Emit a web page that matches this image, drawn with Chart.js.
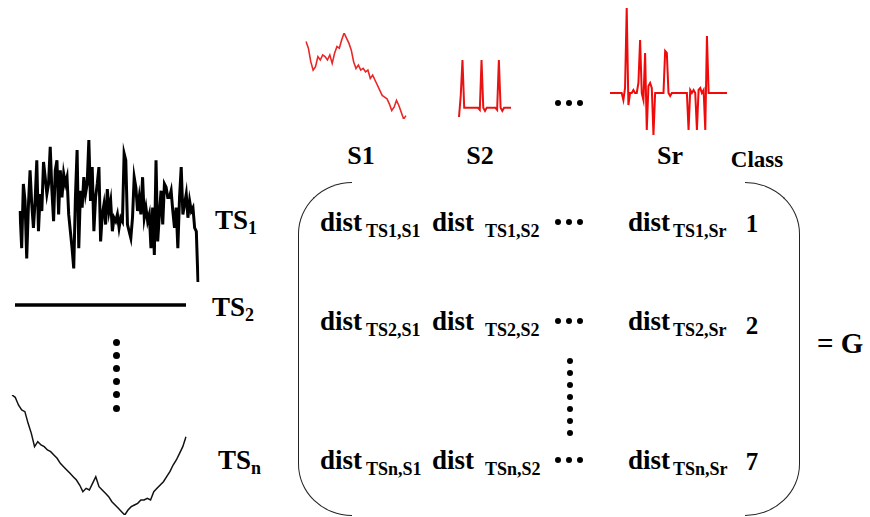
<!DOCTYPE html>
<html>
<head>
<meta charset="utf-8">
<script src="https://cdn.jsdelivr.net/npm/chart.js@4/dist/chart.umd.min.js"></script>
<style>
  body { margin: 0; background: #fff; }
  #page { position: relative; width: 870px; height: 517px; overflow: hidden; background: #fff;
          font-family: "Liberation Serif", "Times New Roman", serif; font-weight: 700; color: #000; }
  .box { position: absolute; }
  .txt { position: absolute; line-height: 1; white-space: nowrap; }
  .dot { position: absolute; background: #000; border-radius: 50%; }
  .paren { position: absolute; border: 1.5px solid #222; box-sizing: border-box; }
</style>
</head>
<body>
<div id="page"></div>
<script>
// shapelets (red) and time series (black)
const s1Values = [23.5, 21.5, 17.5, 15, 16, 19, 18, 19.5, 19, 18, 19.5, 17, 20, 22, 21.5, 24, 26, 24.5, 23, 21,
  17.5, 15.5, 16.5, 15, 15.5, 14.5, 15, 12.5, 13.5, 12, 10.5, 9, 7.5, 7, 6.5, 5, 3, 4, 6, 4.5, 2.5, 0.5, 1.5];
const s2Values = [-9, 12, 47, 0, 0, 0, 0, 0, 0, 0, 0, 0, -2, 47, 0, -3, 0, 0, 0, 0, 0, 0, -2, 47, 0, -3, 0, 0, 0, 0, 0];
const srValues = [0, 0, 0, 0, 0, 0, 0, 0, -7, 5, 85, -12, 0, 0, 3, 0, 0, 10, 53, 0, -7, 40, -37, 7, 10, 5,
  -42, 0, 0, 0, 0, 0, 0, 42, 40, 0, -3, 0, 0, 0, 0, 0, 0, 0, 0, 0, 0, -37, 3, 0, 3, 0, -37, 3, 5, 0, 3,
  -37, 57, 0, 0, 0, 0, 0, 0, 0, 0, 0, 0, 0, 0];
const ts1Values = [21, 10, 29, 24, 7, 22.5, 33, 23, 16, 24, 36, 15, 26, 21, 35.5, 31, 26, 29, 40, 27, 18, 33,
  36, 20, 33, 25, 32, 29, 31, 20, 15, 10, 4, 25, 39, 10, 27, 22, 31, 26, 29, 42, 24, 34, 15, 25, 29, 34, 12,
  20, 23, 17, 27.5, 21, 24, 15, 19, 18, 20, 16, 19, 18, 38, 36, 17, 15, 13, 19, 31, 28, 21, 25, 20, 31, 19,
  22, 18, 20, 10, 22, 8, 36, 12, 20, 27, 17, 29, 28, 25, 25, 27, 21, 16, 22, 10, 25, 34, 20, 23, 26, 19, 24,
  21, 22, 16, 15, 0];
const ts2Values = [0, 0, 0, 0, 0, 0, 0, 0, 0, 0, 0];
const tsnValues = [38.5, 37.8, 35.5, 34, 33.5, 30, 27, 23, 24.5, 23.5, 23, 22, 21.5, 20.5, 19.5, 18, 17, 16,
  15, 14, 13, 11.5, 9.5, 10.5, 10, 12, 14, 11, 10, 9, 8, 6.5, 5.5, 4.5, 3.5, 2.5, 4, 5, 5.5, 6, 7, 7, 7.5,
  7, 9.5, 10.5, 11.5, 12.5, 14, 15.5, 17.5, 19, 21, 23, 26];

// text
const shapeletNames = ["S1", "S2", "Sr"];
const seriesNames = ["TS1", "TS2", "TSn"];
const seriesSubs = ["1", "2", "n"];
const classLabels = ["1", "2", "7"];

const page = document.getElementById("page");

function sparkline(values, left, top, w, h, min, max, color, width) {
  const div = document.createElement("div");
  div.className = "box";
  div.style.cssText = `left:${left}px;top:${top}px;width:${w}px;height:${h}px;`;
  const canvas = document.createElement("canvas");
  div.appendChild(canvas);
  page.appendChild(div);
  new Chart(canvas.getContext("2d"), {
    type: "line",
    data: {
      labels: values.map((v, i) => i),
      datasets: [{
        data: values,
        borderColor: color,
        borderWidth: width,
        pointRadius: 0,
        tension: 0,
        fill: false,
      }],
    },
    options: {
      responsive: true,
      maintainAspectRatio: false,
      animation: false,
      events: [],
      layout: { padding: 2 },
      plugins: { legend: { display: false }, tooltip: { enabled: false } },
      scales: {
        x: { display: false },
        y: { display: false, min: min, max: max },
      },
    },
  });
}

function text(html, x, baseline, size, align) {
  const d = document.createElement("div");
  d.className = "txt";
  d.innerHTML = html;
  d.style.fontSize = size + "px";
  d.style.left = x + "px";
  d.style.top = (baseline - 0.8375 * size) + "px";
  if (align === "center") d.style.transform = "translateX(-50%)";
  page.appendChild(d);
}

function dot(cx, cy, d) {
  const e = document.createElement("div");
  e.className = "dot";
  e.style.cssText = `left:${cx - d / 2}px;top:${cy - d / 2}px;width:${d}px;height:${d}px;`;
  page.appendChild(e);
}

// shapelets
sparkline(s1Values, 304, 31, 104, 90, 0.5, 26, "rgb(232,40,40)", 1.6);
sparkline(s2Values, 457, 58, 56, 62, -10, 47, "rgb(232,20,20)", 2);
sparkline(srValues, 608, 6, 121, 131, -42, 85, "rgb(240,10,10)", 2);
for (let k = 0; k < 3; k++) dot(558 + 11 * k, 103, 6);

// time series
sparkline(ts1Values, 18, 138, 182, 146, 0, 42, "#000", 3);
sparkline(ts2Values, 13, 300, 175, 10, -1, 1, "#000", 3.5);
sparkline(tsnValues, 10, 393, 178, 124, 2.5, 38.5, "#111", 1.5);
for (let k = 0; k < 6; k++) dot(116, 342 + 13.2 * k, 7);

// labels above matrix
const shapeletX = [361, 480, 670];
shapeletNames.forEach((n, i) => text(n, shapeletX[i], 165, 26, "center"));
text("Class", 757, 167, 23, "center");

// TS labels
const tsX = [215, 212, 218];
const tsBase = [230, 317, 470];
seriesNames.forEach((n, i) => {
  text(`TS<span style="font-size:18px;position:relative;top:5px">${seriesSubs[i]}</span>`, tsX[i], tsBase[i], 27);
});

// matrix brackets
const paren = document.createElement("div");
paren.className = "paren";
paren.style.cssText = "left:298px;top:182px;width:54px;height:334px;border-right:none;border-radius:54px 0 0 54px / 52px 0 0 52px;";
page.appendChild(paren);
const paren2 = document.createElement("div");
paren2.className = "paren";
paren2.style.cssText = "left:745px;top:182px;width:55px;height:334px;border-left:none;border-radius:0 55px 55px 0 / 0 52px 52px 0;";
page.appendChild(paren2);

const distX = [320, 432, 628];
const subX = [366, 485, 673];
const rowBase = [232, 331, 470];
const classBase = [232, 334, 470];
seriesNames.forEach((ts, r) => {
  shapeletNames.forEach((s, c) => {
    text("dist", distX[c], rowBase[r], 27);
    text(`${ts},${s}`, subX[c], rowBase[r] + 5, 18);
  });
  for (let k = 0; k < 3; k++) dot(558 + 11 * k, rowBase[r] - 10, 6);
  text(classLabels[r], 752, classBase[r], 25, "center");
});
for (let k = 0; k < 7; k++) dot(570, 361 + 12 * k, 6.5);

text("= G", 817, 353, 29);
</script>
</body>
</html>
